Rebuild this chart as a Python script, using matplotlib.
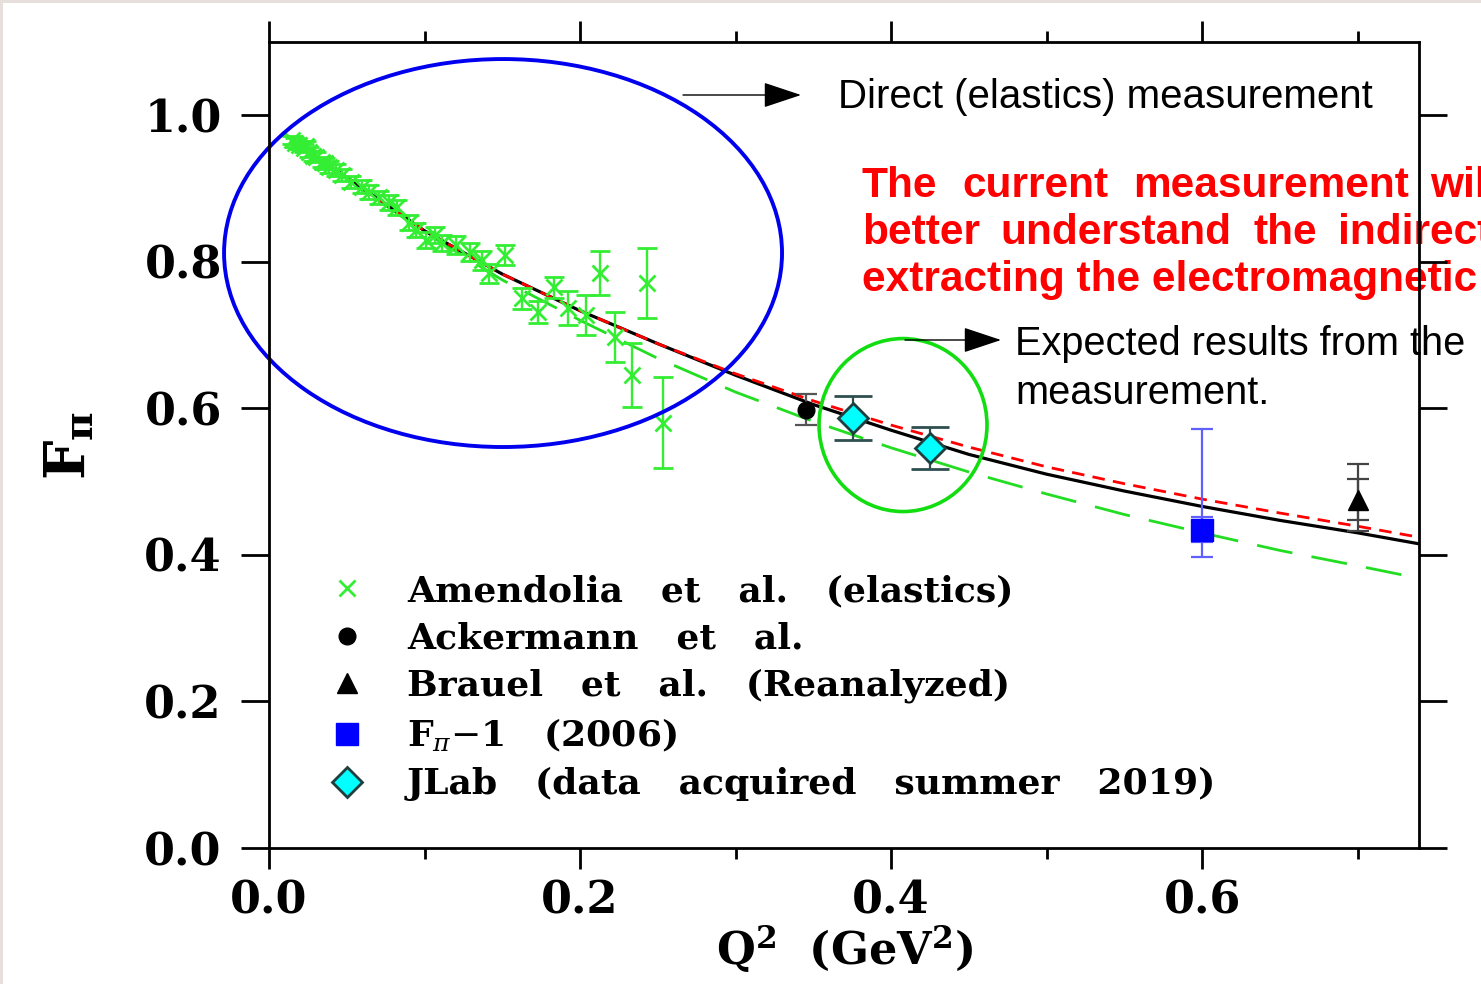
import matplotlib
matplotlib.use("Agg")
import matplotlib.pyplot as plt
from matplotlib.patches import Ellipse, FancyArrowPatch, Rectangle
from matplotlib.ticker import MultipleLocator

plt.rcParams['mathtext.fontset'] = 'dejavuserif'

# ---- data -------------------------------------------------------------
amen_q2 = [0.015, 0.017, 0.019, 0.0225, 0.024, 0.026, 0.028, 0.030, 0.034, 0.036,
           0.0386, 0.043, 0.047, 0.053, 0.060, 0.064, 0.071, 0.077, 0.082, 0.090,
           0.0945, 0.101, 0.107, 0.111, 0.120, 0.129, 0.137, 0.1415, 0.152, 0.163,
           0.173, 0.183, 0.192, 0.204, 0.213, 0.2225, 0.2335, 0.243, 0.2535]
amen_f = [0.966, 0.962, 0.959, 0.955, 0.958, 0.950, 0.944, 0.943, 0.936, 0.934,
          0.929, 0.925, 0.918, 0.909, 0.902, 0.895, 0.888, 0.881, 0.874, 0.853,
          0.843, 0.829, 0.836, 0.825, 0.823, 0.813, 0.802, 0.784, 0.809, 0.750,
          0.731, 0.765, 0.737, 0.727, 0.784, 0.697, 0.645, 0.771, 0.580]
amen_err = [0.006, 0.006, 0.006, 0.006, 0.006, 0.007, 0.007, 0.007, 0.007, 0.007,
            0.008, 0.008, 0.008, 0.008, 0.009, 0.009, 0.009, 0.010, 0.010, 0.010,
            0.010, 0.011, 0.011, 0.011, 0.012, 0.012, 0.013, 0.013, 0.014, 0.014,
            0.015, 0.014, 0.023, 0.027, 0.030, 0.034, 0.044, 0.048, 0.062]

ack_q2, ack_f, ack_err = [0.345], [0.598], [0.021]

brauel_q2, brauel_f = [0.7005], [0.475]
brauel_stat = [0.028]
brauel_tot_lo, brauel_tot_hi = [0.042], [0.049]

fpi1_q2, fpi1_f = [0.600], [0.434]
fpi1_stat = [0.017]
fpi1_tot_lo, fpi1_tot_hi = [0.037], [0.137]

jlab_q2 = [0.3754, 0.425]
jlab_f = [0.587, 0.546]
jlab_err = [0.030, 0.029]

curve_q2 = [0.015, 0.05, 0.10, 0.15, 0.20, 0.25, 0.30, 0.35, 0.40, 0.45,
            0.50, 0.55, 0.60, 0.65, 0.70, 0.7395]
fit_black = [0.966, 0.915, 0.842, 0.783, 0.733, 0.688, 0.645, 0.605, 0.570, 0.537,
             0.510, 0.487, 0.466, 0.447, 0.430, 0.415]
fit_red = [0.966, 0.915, 0.842, 0.783, 0.733, 0.688, 0.647, 0.610, 0.577, 0.547,
           0.520, 0.497, 0.476, 0.457, 0.439, 0.424]
fit_green = [0.966, 0.913, 0.840, 0.775, 0.720, 0.668, 0.622, 0.582, 0.546, 0.513,
             0.483, 0.455, 0.430, 0.406, 0.385, 0.368]

xticks = [0.0, 0.2, 0.4, 0.6]
xticklabels = ['0.0', '0.2', '0.4', '0.6']
yticks = [0.0, 0.2, 0.4, 0.6, 0.8, 1.0]
yticklabels = ['0.0', '0.2', '0.4', '0.6', '0.8', '1.0']

legend_labels = ['Amendolia   et   al.   (elastics)',
                 'Ackermann   et   al.',
                 'Brauel   et   al.   (Reanalyzed)',
                 r'F$_\pi$$-$1   (2006)',
                 'JLab   (data   acquired   summer   2019)']

# ---- figure -----------------------------------------------------------
W, H = 1481, 984
fig = plt.figure(figsize=(W / 100, H / 100), dpi=100, facecolor='white')


def fx(px):
    return px / W


def fy(py):
    return 1 - py / H


ax = fig.add_axes([fx(269), fy(848), (1419 - 269) / W, (848 - 42) / H])
ax.set_xlim(0, 0.7395)
ax.set_ylim(0, 1.0996)

GREEN = '#33ee33'

# model curves
ax.plot(curve_q2, fit_green, color='#22dd22', lw=2.0, dashes=(13, 7), zorder=3)
ax.plot(curve_q2, fit_red, color='red', lw=2.0, dashes=(4.5, 3), zorder=3.2)
ax.plot(curve_q2, fit_black, color='black', lw=2.3, zorder=3.1)

# data sets
amen = ax.errorbar(amen_q2, amen_f, yerr=amen_err, fmt='x', color=GREEN,
                   ms=12, mew=2.0, elinewidth=1.7, capsize=7, capthick=1.7, zorder=4)

ack = ax.errorbar(ack_q2, ack_f, yerr=ack_err, fmt='o', color='black', ms=12,
                  ecolor='#555555', elinewidth=1.6, capsize=8, capthick=1.6, zorder=5)

ax.errorbar(brauel_q2, brauel_f, yerr=[brauel_tot_lo, brauel_tot_hi], fmt='none',
            ecolor='#444444', elinewidth=1.6, capsize=8, capthick=1.6, zorder=4)
brauel = ax.errorbar(brauel_q2, brauel_f, yerr=brauel_stat, fmt='^', color='black',
                     ms=15, ecolor='#444444', elinewidth=1.6, capsize=8,
                     capthick=1.6, zorder=5)

ax.errorbar(fpi1_q2, fpi1_f, yerr=[fpi1_tot_lo, fpi1_tot_hi], fmt='none',
            ecolor='#6060ff', elinewidth=1.6, capsize=8, capthick=1.6, zorder=4)
fpi1 = ax.errorbar(fpi1_q2, fpi1_f, yerr=fpi1_stat, fmt='s', color='blue', ms=16,
                   ecolor='#6060ff', elinewidth=1.6, capsize=8, capthick=1.6, zorder=5)

jlab = ax.errorbar(jlab_q2, jlab_f, yerr=jlab_err, fmt='D', mfc='cyan',
                   mec='#1f3f3f', mew=2.0, ms=15, ecolor='#2f4f4f',
                   elinewidth=1.6, capsize=14, capthick=1.6, zorder=6)

# highlight shapes
ax.add_patch(Ellipse((0.1505, 0.8117), 0.3588, 0.5293, fill=False,
                     edgecolor='#0000ee', lw=2.8, clip_on=False, zorder=7))
ax.add_patch(Ellipse((0.4077, 0.577), 0.108, 0.236, fill=False,
                     edgecolor='#11dd11', lw=2.6, clip_on=False, zorder=7))

# axes frame and ticks
for s in ax.spines.values():
    s.set_linewidth(2.0)
    s.set_zorder(10)
ax.set_xticks(xticks)
ax.set_xticklabels(xticklabels)
ax.set_yticks(yticks)
ax.set_yticklabels(yticklabels)
ax.xaxis.set_minor_locator(MultipleLocator(0.1))
ax.tick_params(axis='x', which='major', direction='out', length=15, width=2.0,
               top=True, pad=8)
ax.tick_params(axis='x', which='minor', direction='out', length=8, width=2.0,
               top=True)
ax.tick_params(axis='y', which='major', direction='out', length=20, width=2.0,
               right=True, pad=14)
serif = 'DejaVu Serif'
for lab in ax.get_xticklabels() + ax.get_yticklabels():
    lab.set_fontfamily(serif)
    lab.set_fontweight('bold')
    lab.set_fontsize(32)

ax.set_xlabel(r'Q$^\mathbf{2}$  (GeV$^\mathbf{2}$)', fontfamily=serif,
              fontweight='bold', fontsize=32, labelpad=0)
ax.set_ylabel(r'F$_\mathbf{\pi}$', fontfamily=serif, fontweight='bold',
              fontsize=40, labelpad=34)

# legend built from the plotted markers
handles = [amen[0], ack[0], brauel[0], fpi1[0], jlab[0]]
leg = ax.legend(handles, legend_labels, loc='upper left',
                bbox_to_anchor=(fx(322), fy(574)), bbox_transform=fig.transFigure,
                frameon=False, prop={'family': serif, 'size': 26, 'weight': 'bold'},
                handlelength=1.4, handletextpad=0.95, labelspacing=0.37,
                borderpad=0, borderaxespad=0, numpoints=1)

# annotations (drawn beneath the frame)
sans = 'Liberation Sans'
black_text = [('Direct (elastics) measurement', 838, 108, 29),
              ('Expected results from the', 1015, 355, 28.6),
              ('measurement.', 1015, 404, 28.6)]
for s, xp, yb, fs in black_text:
    ax.text(fx(xp), fy(yb), s, transform=fig.transFigure, fontfamily=sans,
            fontsize=fs, va='baseline', ha='left', clip_on=False, zorder=1)

red_lines = [
    [('The', 862), ('current', 962), ('measurement', 1133), ('will', 1430)],
    [('better', 862), ('understand', 1000), ('the', 1253), ('indirect', 1338)],
    [('extracting the electromagnetic', 862)],
]
red_base = [197, 244, 291]
for words, yb in zip(red_lines, red_base):
    for w, xp in words:
        ax.text(fx(xp), fy(yb), w, transform=fig.transFigure, color='red',
                fontfamily=sans, fontweight='bold', fontsize=30.5,
                va='baseline', ha='left', clip_on=False, zorder=1)

for (x0, x1, yp) in [(683, 801, 95), (905, 1001, 340)]:
    arr = FancyArrowPatch((fx(x0), fy(yp)), (fx(x1), fy(yp)),
                          transform=fig.transFigure,
                          arrowstyle='-|>,head_length=24,head_width=8',
                          mutation_scale=1, color='black', lw=1.0,
                          shrinkA=0, shrinkB=0)
    fig.add_artist(arr)

# thin grey frame along the top and left edges of the image
fig.add_artist(Rectangle((0, fy(3)), 1, 3 / H, transform=fig.transFigure,
                         color='#e6dfdc', lw=0))
fig.add_artist(Rectangle((0, 0), 3 / W, 1, transform=fig.transFigure,
                         color='#e6dfdc', lw=0))

fig.savefig('out.png', dpi=100, facecolor='white')
